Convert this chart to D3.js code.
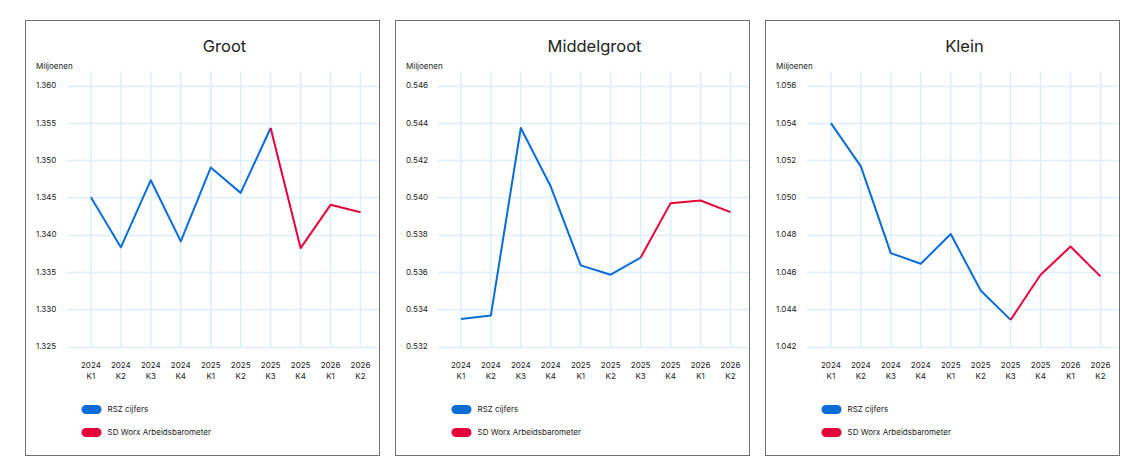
<!DOCTYPE html>
<html>
<head>
<meta charset="utf-8">
<script src="https://cdn.jsdelivr.net/npm/d3@7"></script>
<style>
	body { margin: 0; background: #fff; font-family: Inter, "Noto Sans", sans-serif; }
	svg text { fill: #222; }
</style>
</head>
<body>
<div id="chart"></div>
<script>

var quarters = ["2024|K1", "2024|K2", "2024|K3", "2024|K4", "2025|K1", "2025|K2", "2025|K3", "2025|K4", "2026|K1", "2026|K2"];
var seriesNames = ["RSZ cijfers", "SD Worx Arbeidsbarometer"];

var grootRsz = [1.3450, 1.3383, 1.3473, 1.3391, 1.3490, 1.3456, 1.3543, null, null, null];
var grootSdworx = [null, null, null, null, null, null, 1.3543, 1.3382, 1.3440, 1.3430];
var grootTicks = [1.325, 1.330, 1.335, 1.340, 1.345, 1.350, 1.355, 1.360];

var middelRsz = [0.53347, 0.53366, 0.54372, 0.54058, 0.53635, 0.53585, 0.53677, null, null, null];
var middelSdworx = [null, null, null, null, null, null, 0.53677, 0.53969, 0.53983, 0.53921];
var middelTicks = [0.532, 0.534, 0.536, 0.538, 0.540, 0.542, 0.544, 0.546];

var kleinRsz = [1.05398, 1.05166, 1.04701, 1.04644, 1.04803, 1.04500, 1.04343, null, null, null];
var kleinSdworx = [null, null, null, null, null, null, 1.04343, 1.04585, 1.04736, 1.04576];
var kleinTicks = [1.042, 1.044, 1.046, 1.048, 1.050, 1.052, 1.054, 1.056];

var colors = ["#0a6cd6", "#e5003a"];

var panels = [
	{title: "Groot", ticks: grootTicks, series: [grootRsz, grootSdworx]},
	{title: "Middelgroot", ticks: middelTicks, series: [middelRsz, middelSdworx]},
	{title: "Klein", ticks: kleinTicks, series: [kleinRsz, kleinSdworx]}
];

var W = 1145, H = 470,
	panelW = 354, panelTop = 20.5, panelBottom = 455.5,
	panelLefts = [25.5, 395.5, 765.5];

var svg = d3.select("#chart").append("svg")
	.attr("width", W)
	.attr("height", H);

panels.forEach(function(p, pi) {

	var L = panelLefts[pi];
	var g = svg.append("g").attr("transform", "translate(" + L + ",0)");

	var x = d3.scalePoint().domain(quarters).range([65.4, 335]);
	var y = d3.scaleLinear().domain(d3.extent(p.ticks)).range([346.5, 85.5]);

	// horizontal grid
	g.append("g")
		.selectAll("line")
		.data(p.ticks)
		.enter().append("line")
			.attr("x1", 41.5).attr("x2", panelW)
			.attr("y1", function(d) { return Math.round(y(d)) + 0.5; })
			.attr("y2", function(d) { return Math.round(y(d)) + 0.5; })
			.attr("stroke", "#dcefff").attr("stroke-width", 1.5);

	// vertical grid
	g.append("g")
		.selectAll("line")
		.data(quarters)
		.enter().append("line")
			.attr("x1", function(d) { return x(d); })
			.attr("x2", function(d) { return x(d); })
			.attr("y1", 71.5).attr("y2", 347)
			.attr("stroke", "#dcefff").attr("stroke-width", 1.5);

	// y labels
	g.append("g")
		.selectAll("text")
		.data(p.ticks)
		.enter().append("text")
			.attr("x", 10.5)
			.attr("y", function(d) { return y(d); })
			.attr("dy", "0.35em")
			.style("font-size", "8px")
			.text(function(d) { return d3.format(".3f")(d); });

	g.append("text")
		.attr("x", 10.5).attr("y", 66)
		.attr("dy", "0.35em")
		.style("font-size", "8px")
		.text("Miljoenen");

	// x labels
	var xl = g.append("g")
		.selectAll("text")
		.data(quarters)
		.enter().append("text")
			.attr("x", function(d) { return x(d); })
			.attr("y", 365.5)
			.attr("text-anchor", "middle")
			.style("font-size", "8px");

	xl.append("tspan").attr("x", function(d) { return x(d); }).attr("dy", "0.35em")
		.text(function(d) { return d.split("|")[0]; });
	xl.append("tspan").attr("x", function(d) { return x(d); }).attr("dy", "1.3em")
		.text(function(d) { return d.split("|")[1]; });

	// title
	g.append("text")
		.attr("x", 199).attr("y", 46)
		.attr("dy", "0.35em")
		.attr("text-anchor", "middle")
		.style("font-size", "16.5px")
		.text(p.title);

	// lines
	p.series.forEach(function(values, si) {
		var line = d3.line()
			.defined(function(d) { return d != null; })
			.x(function(d, i) { return x(quarters[i]); })
			.y(function(d) { return y(d); });

		g.append("path")
			.datum(values)
			.attr("d", line)
			.attr("fill", "none")
			.attr("stroke", colors[si])
			.attr("stroke-width", 2)
			.attr("stroke-linejoin", "round");
	});

	// legend
	var leg = g.append("g")
		.selectAll("g")
		.data(seriesNames)
		.enter().append("g")
			.attr("transform", function(d, i) { return "translate(56," + (409.5 + i * 23) + ")"; });

	leg.append("rect")
		.attr("x", 0).attr("y", -4.5)
		.attr("width", 20).attr("height", 9)
		.attr("rx", 4.5)
		.attr("fill", function(d, i) { return colors[i]; });

	leg.append("text")
		.attr("x", 26).attr("y", 0)
		.attr("dy", "0.35em")
		.style("font-size", "8px")
		.text(function(d) { return d; });

	// border
	g.append("rect")
		.attr("x", 0).attr("y", panelTop)
		.attr("width", panelW).attr("height", panelBottom - panelTop)
		.attr("fill", "none")
		.attr("stroke", "#707070").attr("stroke-width", 1);
});

</script>
</body>
</html>
